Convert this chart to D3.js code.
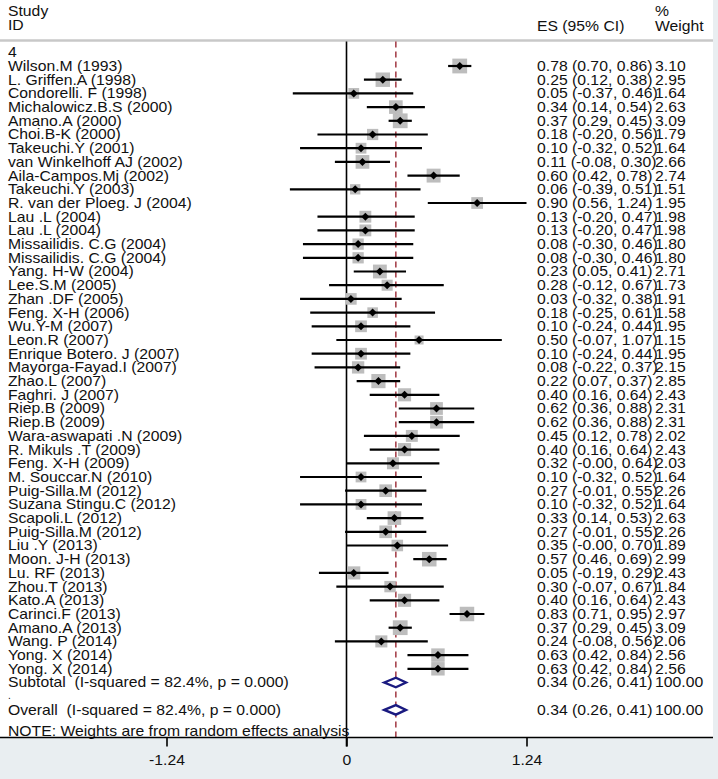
<!DOCTYPE html>
<html>
<head>
<meta charset="utf-8">
<script src="https://cdn.jsdelivr.net/npm/d3@7"></script>
<style>
  body { margin: 0; padding: 0; background: #e9eef1; }
  svg { display: block; }
  text { font-family: "Liberation Sans", Arial, sans-serif; font-size: 14px; fill: #111; white-space: pre; }
</style>
</head>
<body>
<svg id="chart" width="718" height="779"></svg>
<script>
// ---------------- DATA ----------------
const studies = [
  "Wilson.M (1993)", "L. Griffen.A (1998)", "Condorelli. F (1998)", "Michalowicz.B.S (2000)",
  "Amano.A (2000)", "Choi.B-K (2000)", "Takeuchi.Y (2001)", "van Winkelhoff AJ (2002)",
  "Aila-Campos.Mj (2002)", "Takeuchi.Y (2003)", "R. van der Ploeg. J (2004)", "Lau .L (2004)",
  "Lau .L (2004)", "Missailidis. C.G (2004)", "Missailidis. C.G (2004)", "Yang. H-W (2004)",
  "Lee.S.M (2005)", "Zhan .DF (2005)", "Feng. X-H (2006)", "Wu.Y-M (2007)", "Leon.R (2007)",
  "Enrique Botero. J (2007)", "Mayorga-Fayad.I (2007)", "Zhao.L (2007)", "Faghri. J (2007)",
  "Riep.B (2009)", "Riep.B (2009)", "Wara-aswapati .N (2009)", "R. Mikuls .T (2009)",
  "Feng. X-H (2009)", "M. Souccar.N (2010)", "Puig-Silla.M (2012)", "Suzana Stingu.C (2012)",
  "Scapoli.L (2012)", "Puig-Silla.M (2012)", "Liu .Y (2013)", "Moon. J-H (2013)", "Lu. RF (2013)",
  "Zhou.T (2013)", "Kato.A (2013)", "Carinci.F (2013)", "Amano.A (2013)", "Wang. P (2014)",
  "Yong. X (2014)", "Yong. X (2014)"
];
const es = [0.78, 0.25, 0.05, 0.34, 0.37, 0.18, 0.10, 0.11, 0.60, 0.06, 0.90, 0.13, 0.13, 0.08, 0.08,
  0.23, 0.28, 0.03, 0.18, 0.10, 0.50, 0.10, 0.08, 0.22, 0.40, 0.62, 0.62, 0.45, 0.40, 0.32, 0.10,
  0.27, 0.10, 0.33, 0.27, 0.35, 0.57, 0.05, 0.30, 0.40, 0.83, 0.37, 0.24, 0.63, 0.63];
const lower = [0.70, 0.12, -0.37, 0.14, 0.29, -0.20, -0.32, -0.08, 0.42, -0.39, 0.56, -0.20, -0.20, -0.30, -0.30,
  0.05, -0.12, -0.32, -0.25, -0.24, -0.07, -0.24, -0.22, 0.07, 0.16, 0.36, 0.36, 0.12, 0.16, -0.001, -0.32,
  -0.01, -0.32, 0.14, -0.01, -0.001, 0.46, -0.19, -0.07, 0.16, 0.71, 0.29, -0.08, 0.42, 0.42];
const upper = [0.86, 0.38, 0.46, 0.54, 0.45, 0.56, 0.52, 0.30, 0.78, 0.51, 1.24, 0.47, 0.47, 0.46, 0.46,
  0.41, 0.67, 0.38, 0.61, 0.44, 1.07, 0.44, 0.37, 0.37, 0.64, 0.88, 0.88, 0.78, 0.64, 0.64, 0.52,
  0.55, 0.52, 0.53, 0.55, 0.70, 0.69, 0.29, 0.67, 0.64, 0.95, 0.45, 0.56, 0.84, 0.84];
const weights = [3.10, 2.95, 1.64, 2.63, 3.09, 1.79, 1.64, 2.66, 2.74, 1.51, 1.95, 1.98, 1.98, 1.80, 1.80,
  2.71, 1.73, 1.91, 1.58, 1.95, 1.15, 1.95, 2.15, 2.85, 2.43, 2.31, 2.31, 2.02, 2.43, 2.03, 1.64,
  2.26, 1.64, 2.63, 2.26, 1.89, 2.99, 2.43, 1.84, 2.43, 2.97, 3.09, 2.06, 2.56, 2.56];
const groupLabel = "4";
const pooledLabels = ["Subtotal  (I-squared = 82.4%, p = 0.000)", "Overall  (I-squared = 82.4%, p = 0.000)"];
const pooledES = [0.34, 0.34];
const pooledLower = [0.26, 0.26];
const pooledUpper = [0.41, 0.41];
const pooledWeight = [100.00, 100.00];
const tickValues = [-1.24, 0, 1.24];
const noteText = "NOTE: Weights are from random effects analysis";

// ---------------- LAYOUT ----------------
const svg = d3.select("#chart");
const W = 718, H = 779;
const plotRight = 713, axisY = 737.5;
const stretch = 1.125;
const row0 = 52.3, rowStep = 13.7;
const rowY = i => row0 + i * rowStep;
const x = d3.scaleLinear().domain([-1.24, 1.24]).range([166.5, 526.5]);
const f2 = v => v.toFixed(2);

svg.append("rect").attr("x", 0).attr("y", 0).attr("width", W).attr("height", H).attr("fill", "#e9eef1");
svg.append("rect").attr("x", 0).attr("y", 0).attr("width", plotRight).attr("height", axisY).attr("fill", "#ffffff");

function txt(xp, yp, s, anchor) {
  const g = svg.append("g").attr("transform", `translate(${xp},${yp}) scale(${stretch},1)`);
  g.append("text").attr("x", 0).attr("y", 0).attr("dy", "0.35em")
    .attr("text-anchor", anchor || "start").text(s);
  return g;
}

// header
txt(8, 11, "Study");
txt(8, 25.5, "ID");
txt(537, 26.5, "ES (95% CI)");
txt(655, 11, "%");
txt(655, 26.5, "Weight");
svg.append("line").attr("x1", 0).attr("x2", plotRight).attr("y1", 40.5).attr("y2", 40.5)
  .attr("stroke", "#c8c8c8").attr("stroke-width", 2.5);

// reference lines
const topY = 41.5;
svg.append("line").attr("x1", x(0)).attr("x2", x(0)).attr("y1", topY).attr("y2", axisY + 9)
  .attr("stroke", "#000").attr("stroke-width", 1.6);
svg.append("line").attr("x1", x(pooledES[1])).attr("x2", x(pooledES[1])).attr("y1", topY).attr("y2", axisY)
  .attr("stroke", "#9b2a35").attr("stroke-width", 1.4).attr("stroke-dasharray", "6,4");

// group label
txt(8, rowY(0), groupLabel);

// studies
const boxK = 8.4;
studies.forEach((s, i) => {
  const y = rowY(i + 1);
  txt(8, y, s);
  const side = boxK * Math.sqrt(weights[i]);
  svg.append("rect").attr("x", x(es[i]) - side / 2).attr("y", y - side / 2)
    .attr("width", side).attr("height", side).attr("fill", "#bdbdbd");
  svg.append("line").attr("x1", x(lower[i])).attr("x2", x(upper[i])).attr("y1", y).attr("y2", y)
    .attr("stroke", "#000").attr("stroke-width", 2.2);
  const d = 4;
  svg.append("path")
    .attr("d", `M${x(es[i]) - d},${y} L${x(es[i])},${y - d} L${x(es[i]) + d},${y} L${x(es[i])},${y + d} Z`)
    .attr("fill", "#000");
  txt(537, y, `${f2(es[i])} (${f2(lower[i])}, ${f2(upper[i])})`);
  txt(655, y, f2(weights[i]));
});

// pooled rows
const pooledRows = [studies.length + 1, studies.length + 3];
pooledRows.forEach((ri, k) => {
  const y = rowY(ri);
  txt(8, y, pooledLabels[k]);
  const h = 4.8;
  svg.append("path")
    .attr("d", `M${x(pooledLower[k])},${y} L${x(pooledES[k])},${y - h} L${x(pooledUpper[k])},${y} L${x(pooledES[k])},${y + h} Z`)
    .attr("fill", "#fff").attr("stroke", "#1a1a80").attr("stroke-width", 2.4);
  txt(537, y, `${f2(pooledES[k])} (${f2(pooledLower[k])}, ${f2(pooledUpper[k])})`);
  txt(655, y, f2(pooledWeight[k]));
});
// separator dot (small font so its box fits between the pooled rows)
svg.append("text").attr("x", 8).attr("y", 699).style("font-size", "10px").text(".");
txt(8, 731, noteText);

// axis
svg.append("line").attr("x1", 0).attr("x2", plotRight).attr("y1", axisY).attr("y2", axisY)
  .attr("stroke", "#000").attr("stroke-width", 1.6);
const axis = d3.axisBottom(x).tickValues(tickValues).tickSize(9).tickPadding(9)
  .tickFormat(d => d === 0 ? "0" : f2(d));
const ag = svg.append("g").attr("transform", `translate(0,${axisY})`).call(axis);
ag.select(".domain").remove();
ag.selectAll(".tick line").attr("stroke", "#000").attr("stroke-width", 1.6);
ag.selectAll(".tick text").attr("font-family", "Liberation Sans, Arial, sans-serif")
  .attr("font-size", 14).attr("fill", "#111").attr("transform", `scale(${stretch},1)`);
</script>
</body>
</html>
